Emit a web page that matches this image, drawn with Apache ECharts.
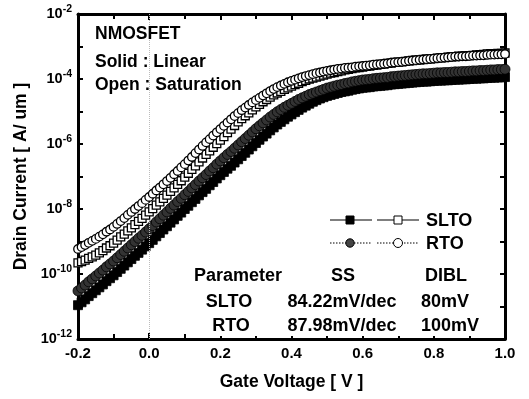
<!DOCTYPE html>
<html>
<head>
<meta charset="utf-8">
<script src="https://cdn.jsdelivr.net/npm/echarts@6/dist/echarts.min.js"></script>
<style>
html,body{margin:0;padding:0;background:#fff;}
#chart{width:529px;height:399px;}
</style>
</head>
<body>
<div id="chart"></div>
<script>
// Gate voltage (V)
const gateVoltage = [
-0.20,-0.19,-0.18,-0.17,-0.16,-0.15,-0.14,-0.13,-0.12,-0.11,
-0.10,-0.09,-0.08,-0.07,-0.06,-0.05,-0.04,-0.03,-0.02,-0.01,
0.00,0.01,0.02,0.03,0.04,0.05,0.06,0.07,0.08,0.09,
0.10,0.11,0.12,0.13,0.14,0.15,0.16,0.17,0.18,0.19,
0.20,0.21,0.22,0.23,0.24,0.25,0.26,0.27,0.28,0.29,
0.30,0.31,0.32,0.33,0.34,0.35,0.36,0.37,0.38,0.39,
0.40,0.41,0.42,0.43,0.44,0.45,0.46,0.47,0.48,0.49,
0.50,0.51,0.52,0.53,0.54,0.55,0.56,0.57,0.58,0.59,
0.60,0.61,0.62,0.63,0.64,0.65,0.66,0.67,0.68,0.69,
0.70,0.71,0.72,0.73,0.74,0.75,0.76,0.77,0.78,0.79,
0.80,0.81,0.82,0.83,0.84,0.85,0.86,0.87,0.88,0.89,
0.90,0.91,0.92,0.93,0.94,0.95,0.96,0.97,0.98,0.99,
1.00];

// Drain current, stored as log10( I [A/um] )
// SLTO, linear (solid squares)
const sltoLinearLog10 = [
-10.96,-10.87,-10.78,-10.68,-10.59,-10.50,-10.41,-10.32,-10.22,-10.13,
-10.04,-9.94,-9.84,-9.74,-9.64,-9.54,-9.44,-9.35,-9.25,-9.15,
-9.05,-8.95,-8.84,-8.74,-8.63,-8.53,-8.42,-8.32,-8.21,-8.11,
-8.00,-7.90,-7.79,-7.69,-7.58,-7.48,-7.38,-7.27,-7.17,-7.06,
-6.96,-6.86,-6.76,-6.67,-6.57,-6.47,-6.37,-6.27,-6.17,-6.07,
-5.97,-5.87,-5.77,-5.68,-5.58,-5.49,-5.40,-5.32,-5.24,-5.16,
-5.09,-5.02,-4.95,-4.88,-4.82,-4.76,-4.70,-4.65,-4.60,-4.56,
-4.52,-4.49,-4.46,-4.43,-4.40,-4.38,-4.36,-4.33,-4.31,-4.29,
-4.27,-4.26,-4.25,-4.23,-4.22,-4.21,-4.20,-4.19,-4.17,-4.16,
-4.15,-4.14,-4.13,-4.12,-4.11,-4.10,-4.09,-4.08,-4.08,-4.07,
-4.06,-4.05,-4.05,-4.04,-4.04,-4.03,-4.02,-4.02,-4.01,-4.01,
-4.00,-3.99,-3.99,-3.98,-3.98,-3.97,-3.96,-3.96,-3.95,-3.95,
-3.94];

// SLTO, saturation (open squares)
const sltoSaturationLog10 = [
-9.66,-9.62,-9.57,-9.52,-9.47,-9.42,-9.35,-9.28,-9.20,-9.13,
-9.05,-8.96,-8.86,-8.77,-8.67,-8.58,-8.48,-8.38,-8.29,-8.19,
-8.09,-7.99,-7.88,-7.78,-7.67,-7.57,-7.46,-7.35,-7.24,-7.13,
-7.02,-6.90,-6.78,-6.67,-6.55,-6.43,-6.32,-6.21,-6.10,-5.99,
-5.88,-5.77,-5.65,-5.54,-5.43,-5.32,-5.22,-5.13,-5.04,-4.95,
-4.86,-4.78,-4.70,-4.63,-4.56,-4.49,-4.43,-4.38,-4.32,-4.27,
-4.22,-4.17,-4.13,-4.08,-4.04,-4.00,-3.97,-3.94,-3.91,-3.88,
-3.85,-3.82,-3.80,-3.77,-3.75,-3.72,-3.70,-3.68,-3.66,-3.65,
-3.63,-3.61,-3.60,-3.58,-3.57,-3.55,-3.54,-3.52,-3.51,-3.49,
-3.48,-3.47,-3.46,-3.44,-3.43,-3.42,-3.41,-3.40,-3.39,-3.38,
-3.37,-3.36,-3.35,-3.34,-3.33,-3.32,-3.31,-3.30,-3.30,-3.29,
-3.28,-3.27,-3.26,-3.25,-3.24,-3.23,-3.22,-3.22,-3.21,-3.21,
-3.20];

// RTO, linear (solid circles)
const rtoLinearLog10 = [
-10.52,-10.43,-10.34,-10.24,-10.15,-10.06,-9.97,-9.88,-9.78,-9.69,
-9.60,-9.50,-9.40,-9.30,-9.20,-9.10,-9.00,-8.90,-8.81,-8.71,
-8.61,-8.51,-8.40,-8.30,-8.19,-8.09,-7.98,-7.88,-7.77,-7.67,
-7.56,-7.46,-7.35,-7.25,-7.14,-7.04,-6.94,-6.83,-6.73,-6.62,
-6.52,-6.42,-6.32,-6.23,-6.13,-6.03,-5.93,-5.83,-5.73,-5.63,
-5.53,-5.44,-5.35,-5.26,-5.17,-5.09,-5.01,-4.94,-4.87,-4.81,
-4.75,-4.69,-4.63,-4.58,-4.53,-4.48,-4.44,-4.40,-4.36,-4.32,
-4.28,-4.25,-4.22,-4.19,-4.17,-4.14,-4.12,-4.09,-4.07,-4.05,
-4.03,-4.02,-4.01,-3.99,-3.98,-3.97,-3.96,-3.95,-3.93,-3.92,
-3.91,-3.90,-3.89,-3.88,-3.87,-3.86,-3.85,-3.84,-3.84,-3.83,
-3.82,-3.81,-3.81,-3.80,-3.80,-3.79,-3.78,-3.78,-3.77,-3.77,
-3.76,-3.75,-3.75,-3.74,-3.74,-3.73,-3.72,-3.72,-3.71,-3.71,
-3.70];

// RTO, saturation (open circles)
const rtoSaturationLog10 = [
-9.23,-9.17,-9.11,-9.04,-8.98,-8.92,-8.85,-8.78,-8.70,-8.63,
-8.55,-8.46,-8.37,-8.28,-8.18,-8.09,-8.00,-7.91,-7.82,-7.72,
-7.63,-7.53,-7.43,-7.34,-7.24,-7.14,-7.04,-6.93,-6.83,-6.72,
-6.62,-6.51,-6.40,-6.28,-6.17,-6.06,-5.95,-5.85,-5.74,-5.64,
-5.54,-5.44,-5.34,-5.24,-5.14,-5.05,-4.96,-4.88,-4.80,-4.72,
-4.65,-4.58,-4.51,-4.44,-4.37,-4.31,-4.25,-4.20,-4.15,-4.10,
-4.06,-4.02,-3.98,-3.94,-3.91,-3.88,-3.85,-3.82,-3.80,-3.77,
-3.75,-3.73,-3.71,-3.69,-3.68,-3.66,-3.65,-3.64,-3.62,-3.61,
-3.60,-3.59,-3.58,-3.56,-3.55,-3.54,-3.53,-3.52,-3.50,-3.49,
-3.48,-3.47,-3.46,-3.44,-3.43,-3.42,-3.41,-3.40,-3.39,-3.38,
-3.37,-3.36,-3.35,-3.34,-3.33,-3.32,-3.31,-3.31,-3.30,-3.30,
-3.29,-3.28,-3.28,-3.27,-3.27,-3.26,-3.25,-3.25,-3.24,-3.24,
-3.23];

const xTickLabels = ['-0.2','0.0','0.2','0.4','0.6','0.8','1.0'];
const tableHeader = ['Parameter','SS','DIBL'];
const tableRows = [['SLTO','84.22mV/dec','80mV'],['RTO','87.98mV/dec','100mV']];
const noteLines = ['NMOSFET','Solid : Linear','Open : Saturation'];

const FONT = '"Liberation Sans", Arial, Helvetica, sans-serif';
function toPairs(logArr){ return gateVoltage.map((v,i)=>[v, Math.pow(10, logArr[i])]); }

const chart = echarts.init(document.getElementById('chart'), null, {renderer:'canvas'});

const axisLineStyle = {color:'#000', width:3};
const tickStyle = {color:'#000', width:2};

const txt = (text, x, y, size, align) => ({
  type:'text', z:100, x:x, y:y,
  style:{text:text, fill:'#000', font:'bold '+size+'px '+FONT, align:align||'left', verticalAlign:'middle'}
});

const graphics = [
  {type:'rect', z:90, shape:{x:190, y:262, width:294, height:74}, style:{fill:'#fff'}},
  txt(noteLines[0], 95, 34, 17.5),
  txt(noteLines[1], 95, 62, 17.5),
  txt(noteLines[2], 95, 85, 17.5),
  // legend
  {type:'line', z:100, shape:{x1:330,y1:220,x2:372,y2:220}, style:{stroke:'#000', lineWidth:1.2}},
  {type:'rect', z:101, shape:{x:346,y:216,width:8,height:8}, style:{fill:'#000', stroke:'#000'}},
  {type:'line', z:100, shape:{x1:377,y1:220,x2:419,y2:220}, style:{stroke:'#000', lineWidth:1.2}},
  {type:'rect', z:101, shape:{x:394,y:216,width:8,height:8}, style:{fill:'#fff', stroke:'#000', lineWidth:1}},
  {type:'line', z:100, shape:{x1:330,y1:243,x2:372,y2:243}, style:{stroke:'#000', lineWidth:1, lineDash:[1.5,1.5]}},
  {type:'circle', z:101, shape:{cx:350,cy:243,r:4.2}, style:{fill:'#444', stroke:'#000', lineWidth:1}},
  {type:'line', z:100, shape:{x1:377,y1:243,x2:419,y2:243}, style:{stroke:'#000', lineWidth:1, lineDash:[1.5,1.5]}},
  {type:'circle', z:101, shape:{cx:398,cy:243,r:4.5}, style:{fill:'#fff', stroke:'#000', lineWidth:1}},
  txt('SLTO', 426, 221, 18),
  txt('RTO', 426, 244, 18),
  // table
  txt(tableHeader[0], 238, 276, 18, 'center'),
  txt(tableHeader[1], 343, 276, 18, 'center'),
  txt(tableHeader[2], 425, 276, 18, 'left'),
  txt(tableRows[0][0], 229, 302, 18, 'center'),
  txt(tableRows[0][1], 342, 302, 18, 'center'),
  txt(tableRows[0][2], 421, 302, 18, 'left'),
  txt(tableRows[1][0], 231, 326, 18, 'center'),
  txt(tableRows[1][1], 342, 326, 18, 'center'),
  txt(tableRows[1][2], 421, 326, 18, 'left')
];

const option = {
  backgroundColor:'#fff',
  animation:false,
  grid:{left:78, right:24, top:14, bottom:60, containLabel:false},
  xAxis:[{
    type:'value', position:'bottom', min:-0.2, max:1.0, interval:0.2,
    name:'Gate Voltage [ V ]', nameLocation:'middle', nameGap:34,
    nameTextStyle:{fontFamily:FONT, fontWeight:'bold', fontSize:17.5, color:'#000'},
    axisLine:{show:true, onZero:false, lineStyle:axisLineStyle},
    axisTick:{show:true, inside:true, length:6, lineStyle:tickStyle},
    minorTick:{show:true, splitNumber:2, length:5, lineStyle:tickStyle},
    splitLine:{show:false},
    axisLabel:{margin:7, fontFamily:FONT, fontWeight:'bold', fontSize:15, color:'#000',
      formatter:function(v){ const i = Math.round((v+0.2)/0.2); return xTickLabels[i] !== undefined ? xTickLabels[i] : v.toFixed(1); }}
  },{
    type:'value', position:'top', min:-0.2, max:1.0, interval:0.2,
    axisLine:{show:true, onZero:false, lineStyle:axisLineStyle},
    axisTick:{show:true, inside:true, length:6, lineStyle:tickStyle},
    minorTick:{show:true, splitNumber:2, length:5, lineStyle:tickStyle},
    splitLine:{show:false}, axisLabel:{show:false}
  }],
  yAxis:[{
    type:'log', logBase:10, min:1e-12, max:1e-2, interval:1, position:'left',
    name:'Drain Current [ A/ um ]', nameLocation:'middle', nameGap:45,
    nameTextStyle:{fontFamily:FONT, fontWeight:'bold', fontSize:17.5, color:'#000'},
    axisLine:{show:true, onZero:false, lineStyle:axisLineStyle},
    axisTick:{show:true, inside:true, length:5, lineStyle:tickStyle},
    splitLine:{show:false},
    axisLabel:{margin:6, color:'#000',
      formatter:function(v){ const e = Math.round(Math.log10(v)); if (e % 2 !== 0) return ''; return '{b|10}{s|' + e + '}'; },
      rich:{
        b:{fontFamily:FONT, fontWeight:'bold', fontSize:14.5, color:'#000'},
        s:{fontFamily:FONT, fontWeight:'bold', fontSize:10.5, color:'#000', padding:[0,0,10,0]}
      }}
  },{
    type:'log', logBase:10, min:1e-12, max:1e-2, interval:1, position:'right',
    axisLine:{show:true, onZero:false, lineStyle:axisLineStyle},
    axisTick:{show:true, inside:true, length:5, lineStyle:tickStyle},
    splitLine:{show:false}, axisLabel:{show:false}
  }],
  graphic:graphics,
  series:[
    {
      name:'SLTO Linear', type:'line', xAxisIndex:0, yAxisIndex:0,
      data:toPairs(sltoLinearLog10), showAllSymbol:true, symbol:'rect', symbolSize:9,
      lineStyle:{color:'#000', width:1}, itemStyle:{color:'#000', borderColor:'#000', borderWidth:0.8},
      z:3,
      markLine:{silent:true, symbol:'none', label:{show:false}, animation:false,
        lineStyle:{type:'dotted', color:'#777', width:1},
        data:[{yAxis:1e-5},{yAxis:1e-10},{yAxis:1e-11},{xAxis:0, lineStyle:{type:'dotted', color:'#bbb', width:1}}]}
    },
    {
      name:'RTO Linear', type:'line', xAxisIndex:0, yAxisIndex:0,
      data:toPairs(rtoLinearLog10), showAllSymbol:true, symbol:'circle', symbolSize:10,
      lineStyle:{color:'#000', width:1, type:'dotted'}, itemStyle:{color:'#333', borderColor:'#000', borderWidth:0.8},
      z:4
    },
    {
      name:'SLTO Saturation', type:'line', xAxisIndex:0, yAxisIndex:0,
      data:toPairs(sltoSaturationLog10), showAllSymbol:true, symbol:'rect', symbolSize:8,
      lineStyle:{color:'#000', width:1}, itemStyle:{color:'#fff', borderColor:'#000', borderWidth:1.3},
      z:5
    },
    {
      name:'RTO Saturation', type:'line', xAxisIndex:0, yAxisIndex:0,
      data:toPairs(rtoSaturationLog10), showAllSymbol:true, symbol:'circle', symbolSize:8.5,
      lineStyle:{color:'#000', width:1, type:'dotted'}, itemStyle:{color:'#fff', borderColor:'#000', borderWidth:1.3},
      z:6
    }
  ]
};
chart.setOption(option);
</script>
</body>
</html>
